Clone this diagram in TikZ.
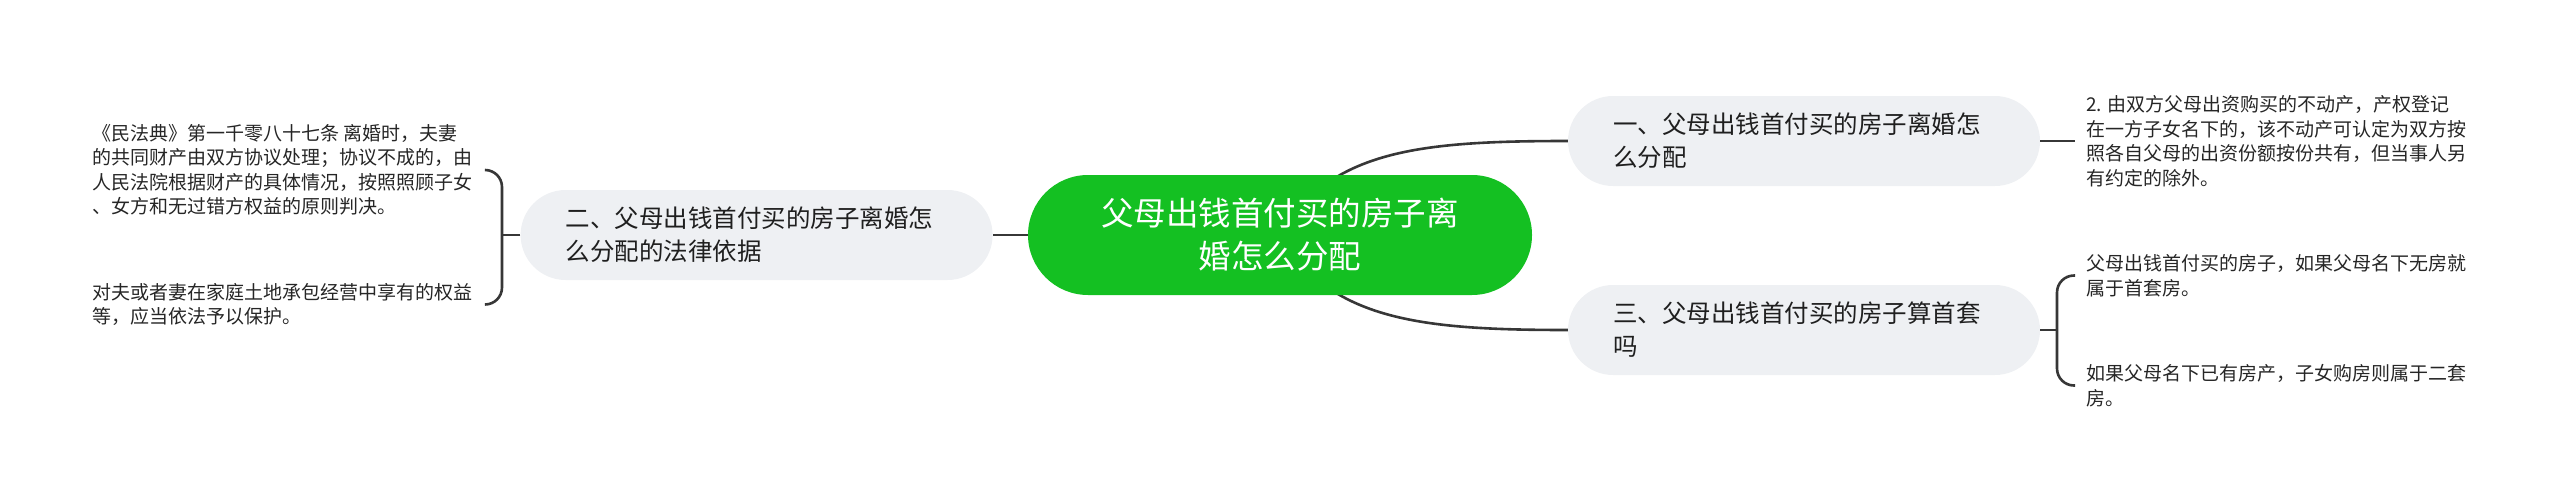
\documentclass[tikz,border=0pt]{standalone}
\usepackage{fontspec}
\setmainfont{Noto Sans CJK SC}
\usetikzlibrary{positioning}
\usetikzlibrary{backgrounds}
\definecolor{mapgreen}{RGB}{20,192,34}
\definecolor{topicgray}{RGB}{238,240,243}
\definecolor{linkgray}{RGB}{55,55,55}

\begin{document}
\begin{tikzpicture}
    [
    x=1pt, y=-1pt,
    root/.style={rounded corners=60pt, fill=mapgreen, text=white, minimum width=504pt, minimum height=120pt, align=center, font=\fontsize{32.5}{43}\selectfont},
    topic/.style={rounded corners=45pt, fill=topicgray, text=black!88, text width=382pt, inner xsep=45pt, minimum height=90pt, align=left, font=\fontsize{24.5}{33}\selectfont},
    leaf/.style={inner sep=0pt, align=left, text=black!85, font=\fontsize{19}{24.5}\selectfont},
    link/.style={draw=linkgray, line width=2.6pt},
    brace/.style={link, rounded corners=17pt}
    ]
    \useasboundingbox (0,0) rectangle (2560,501);

    \node (c) at (1280,235) [root] {父母出钱首付买的房子离\\婚怎么分配};
    \node (n2) [topic, left=35pt of c] {二、父母出钱首付买的房子离婚怎\\么分配的法律依据};
    \node (n1) at (1804,141) [topic] {一、父母出钱首付买的房子离婚怎\\么分配};
    \node (n3) at (1804,330) [topic] {三、父母出钱首付买的房子算首套\\吗};

    \node (r1) [leaf, right=46pt of n1] {2. 由双方父母出资购买的不动产，产权登记\\在一方子女名下的，该不动产可认定为双方按\\照各自父母的出资份额按份共有，但当事人另\\有约定的除外。};
    \node (r2) at (2086,275.5) [leaf, anchor=west] {父母出钱首付买的房子，如果父母名下无房就\\属于首套房。};
    \node (r3) at (2086,385.5) [leaf, anchor=west] {如果父母名下已有房产，子女购房则属于二套\\房。};
    \node (l1) at (92,170) [leaf, anchor=west] {《民法典》第一千零八十七条 离婚时，夫妻\\的共同财产由双方协议处理；协议不成的，由\\人民法院根据财产的具体情况，按照照顾子女\\、女方和无过错方权益的原则判决。};
    \node (l2) at (92,304.5) [leaf, anchor=west] {对夫或者妻在家庭土地承包经营中享有的权益\\等，应当依法予以保护。};

    \begin{pgfonlayer}{background}
    \draw [link] (c.center) .. controls (1330,150) and (1420,141) .. (n1.west);
    \draw [link] (c.center) .. controls (1330,320) and (1420,330) .. (n3.west);
    \end{pgfonlayer}
    \draw [link] (c) -- (n2);
    \draw [link, shorten >=11pt] (n1) -- (r1);

    \coordinate (lb) at (502,235);
    \coordinate (rb) at (2057,330);
    \draw [link] (n2) -- (lb);
    \draw [brace] ([xshift=13pt]l1.east) -| (lb) |- ([xshift=13pt]l2.east);
    \draw [link] (n3) -- (rb);
    \draw [brace] ([xshift=-11pt]r2.west) -| (rb) |- ([xshift=-11pt]r3.west);
\end{tikzpicture}
\end{document}
